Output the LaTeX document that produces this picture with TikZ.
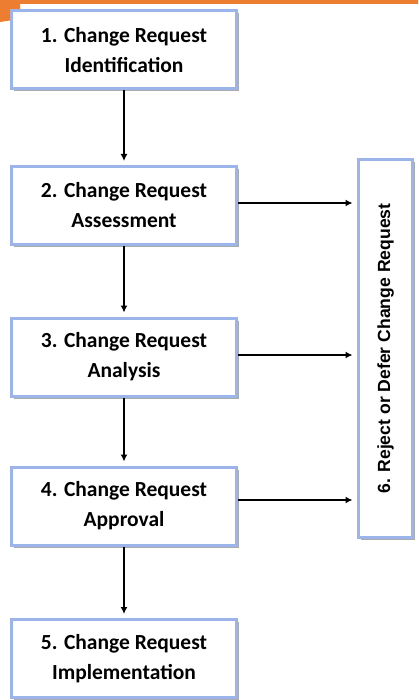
\documentclass[tikz,border=0pt]{standalone}
\usepackage{fontspec}
\setmainfont{Carlito}
\newfontfamily\arialfont{Liberation Sans}
\usetikzlibrary{arrows.meta,shadows,calc}
\definecolor{boxblue}{RGB}{155,181,235}
\definecolor{slideorange}{RGB}{237,125,49}
\definecolor{shadowgray}{RGB}{150,150,150}
\begin{document}
\begin{tikzpicture}[x=1pt,y=-1pt,
  boxshadow/.style={drop shadow={shadow xshift=2.5pt, shadow yshift=-2.5pt, fill=shadowgray, opacity=0.8}},
  stepbox/.style={draw=boxblue, line width=3pt, fill=white, minimum width=225pt,
    minimum height=78pt, align=center, inner sep=0pt, boxshadow,
    font=\fontsize{21.5}{30}\selectfont\bfseries},
  sidebox/.style={draw=boxblue, line width=3pt, fill=white, minimum width=54pt,
    minimum height=378pt, inner sep=0pt, boxshadow},
  sidetext/.style={rotate=90, font=\arialfont\bfseries\fontsize{17.6}{20}\selectfont, inner sep=0pt},
  arr/.style={line width=1.4pt, -{Latex[length=7pt,width=7pt]}}]
\useasboundingbox (0,0) rectangle (418,700);
\fill[slideorange] (0,0) -- (418,0) -- (418,4) -- (20,4) -- (20,19) -- (0,22) -- cycle;

\node[stepbox] (b1) at (124,50) {1. Change Request\\Identification};
\node[stepbox] (b2) at (124,205.5) {2. Change Request\\Assessment};
\node[stepbox] (b3) at (124,357) {3. Change Request\\Analysis};
\node[stepbox] (b4) at (124,506) {4. Change Request\\Approval};
\node[stepbox] (b5) at (124,658.5) {5. Change Request\\Implementation};

\node[sidebox] (b6) at (385.5,348.5) {};
\node[sidetext] (t6) at (b6.center) {6. Reject or Defer Change Request};

\draw[arr, shorten >=4pt] (b1.south) -- (b2.north);
\draw[arr, shorten >=4pt] (b2.south) -- (b3.north);
\draw[arr, shorten >=4pt] (b3.south) -- (b4.north);
\draw[arr, shorten >=4pt] (b4.south) -- (b5.north);

\draw[arr, shorten >=4.5pt] ([yshift=2.5pt]b2.east) -- ([yshift=2.5pt]b2.east -| b6.west);
\draw[arr, shorten >=4.5pt] ([yshift=2pt]b3.east) -- ([yshift=2pt]b3.east -| b6.west);
\draw[arr, shorten >=4.5pt] ([yshift=6pt]b4.east) -- ([yshift=6pt]b4.east -| b6.west);
\end{tikzpicture}
\end{document}
